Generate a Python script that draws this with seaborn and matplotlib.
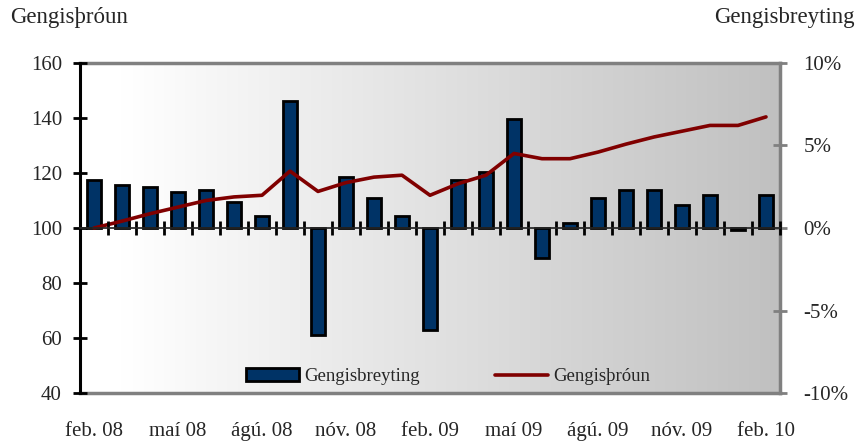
import numpy as np
import pandas as pd
import matplotlib
matplotlib.use("Agg")
import matplotlib.pyplot as plt
from matplotlib.patches import Patch
from matplotlib.lines import Line2D
import seaborn as sns

months = ["feb. 08", "mar. 08", "apr. 08", "maí 08", "jún. 08", "júl. 08", "ágú. 08",
          "sep. 08", "okt. 08", "nóv. 08", "des. 08", "jan. 09", "feb. 09", "mar. 09",
          "apr. 09", "maí 09", "jún. 09", "júl. 09", "ágú. 09", "sep. 09", "okt. 09",
          "nóv. 09", "des. 09", "jan. 10", "feb. 10"]
gengisbreyting = [2.9, 2.6, 2.5, 2.2, 2.3, 1.6, 0.7, 7.7, -6.5, 3.1, 1.8, 0.7, -6.2,
                  2.9, 3.4, 6.6, -1.8, 0.3, 1.8, 2.3, 2.3, 1.4, 2.0, -0.15, 2.0]
gengisthroun = [100, 102.5, 105.2, 107.6, 110.0, 111.3, 111.9, 120.7, 113.3, 116.5,
                118.5, 119.2, 111.9, 116.1, 119.2, 127.1, 125.2, 125.2, 127.6, 130.5,
                133.1, 135.2, 137.3, 137.3, 140.4]
left_ticks = [40, 60, 80, 100, 120, 140, 160]
right_ticks = [-10, -5, 0, 5, 10]

sns.set_theme(style="white")
plt.rcParams['font.family'] = ['Liberation Serif', 'DejaVu Serif']
FS = 15

df = pd.DataFrame({"month": months, "breyting": gengisbreyting,
                   "throun": gengisthroun, "pos": np.arange(len(months))})

fig = plt.figure(figsize=(8.58, 4.45), dpi=100)
ax = fig.add_axes([80/858, 1-393/445, 700/858, 330/445])
ax2 = ax.twinx()
ax.set_zorder(3)
ax.patch.set_visible(False)
ax2.set_zorder(1)

# gradient background on ax2
t = np.linspace(0, 1, 400)
g = 1 - 0.247*np.clip((t-0.06)/0.94, 0, 1)
img = np.tile(np.dstack([g, g, g]), (2, 1, 1))
ax2.imshow(img, extent=[0, 1, 0, 1], transform=ax2.transAxes, aspect='auto', zorder=0)

sns.barplot(data=df, x="month", y="breyting", ax=ax2, color="#003366",
            edgecolor="black", linewidth=2.0, width=0.5, saturation=1, zorder=2)
ax2.set_ylim(-10, 10)
ax2.set_yticks(right_ticks)
ax2.set_yticklabels([f"{v}%" for v in right_ticks], fontsize=FS)
ax2.set_ylabel("")
ax2.set_xlabel("")
ax2.set_xlim(-0.5, len(months)-0.5)

sns.lineplot(data=df, x="pos", y="throun", ax=ax, color="#800000", linewidth=2.6, zorder=4)
ax.set_xlim(-0.5, len(months)-0.5)
ax.set_ylim(40, 160)
ax.set_yticks(left_ticks)
ax.set_yticklabels([str(v) for v in left_ticks], fontsize=FS)
ax.set_xticks(df["pos"][::3])
ax.set_xticklabels(df["month"][::3], fontsize=FS)
ax.set_xlabel("")
ax.set_ylabel("")
ax.tick_params(axis='x', length=0, pad=21)
ax.tick_params(axis='y', direction='inout', length=10, width=2, color='black', pad=8)
ax2.tick_params(axis='y', direction='inout', length=10, width=2, color='#808080', pad=12)
ax2.tick_params(axis='x', length=0, labelbottom=False)

for a in (ax, ax2):
    for s in a.spines.values():
        s.set_visible(False)
ax.spines['left'].set_visible(True)
ax.spines['left'].set_color('black')
ax.spines['left'].set_linewidth(2.2)
for side in ('top', 'bottom', 'right'):
    ax2.spines[side].set_visible(True)
    ax2.spines[side].set_color('#808080')
    ax2.spines[side].set_linewidth(2.5)

# zero line with crossing ticks at category boundaries
sec = ax.secondary_xaxis(0.5)
sec.set_xticks(np.arange(len(months)+1) - 0.5)
sec.set_xticklabels([])
sec.tick_params(axis='x', direction='inout', length=10, width=2, color='black')
sec.spines['bottom'].set_color('black')
sec.spines['bottom'].set_linewidth(2.2)
sec.set_zorder(5)

fig.text(10/858, 1-18/445, "Gengisþróun", fontsize=16.5, ha='left', va='center')
fig.text(855/858, 1-18/445, "Gengisbreyting", fontsize=16.5, ha='right', va='center')

handles = [Patch(facecolor="#003366", edgecolor="black", linewidth=2.0),
           Line2D([0], [0], color="#800000", linewidth=2.6)]
ax.legend(handles, ["Gengisbreyting", "Gengisþróun"], ncol=2, frameon=False,
          loc='center', bbox_to_anchor=(0.526, 0.05), fontsize=13.5,
          handlelength=2.8, columnspacing=4.0, handletextpad=0.3)

fig.savefig("out.png", dpi=100)
